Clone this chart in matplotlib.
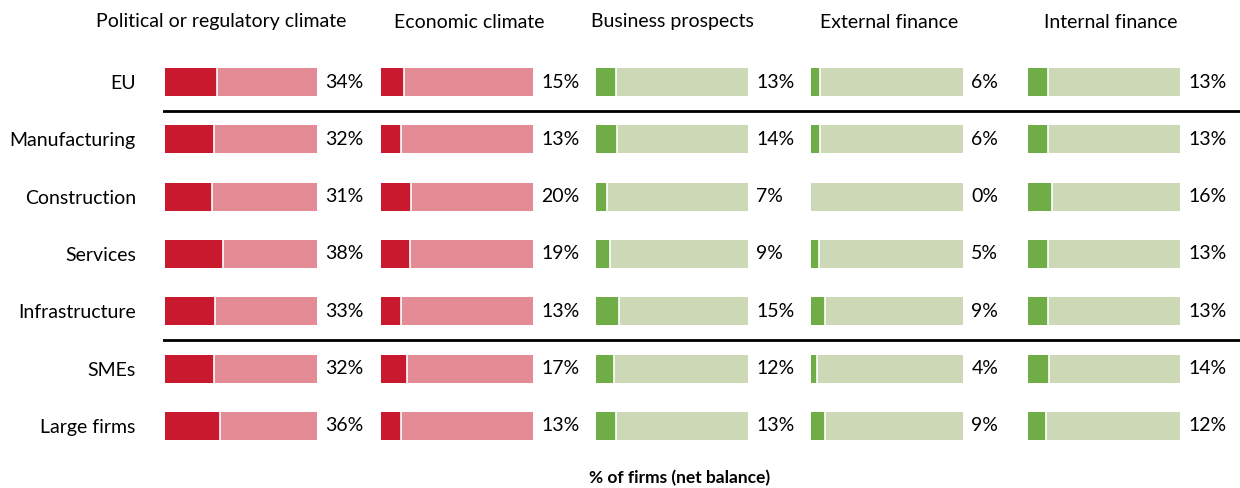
import matplotlib.pyplot as plt
import numpy as np
from matplotlib.transforms import offset_copy

plt.rcParams['font.family'] = ['Lato', 'DejaVu Sans']

categories = ["EU", "Manufacturing", "Construction", "Services", "Infrastructure", "SMEs", "Large firms"]
panels = ["Political or regulatory climate", "Economic climate", "Business prospects",
          "External finance", "Internal finance"]
political = [34, 32, 31, 38, 33, 32, 36]
economic = [15, 13, 20, 19, 13, 17, 13]
business = [13, 14, 7, 9, 15, 12, 13]
external = [6, 6, 0, 5, 9, 4, 9]
internal = [13, 13, 16, 13, 13, 14, 12]
values = [political, economic, business, external, internal]
xlabel = "% of firms (net balance)"

red_dark, red_light = '#C8192E', '#E38C95'
green_dark, green_light = '#70AD47', '#CDD8B6'
colors = [(red_dark, red_light), (red_dark, red_light), (green_dark, green_light),
          (green_dark, green_light), (green_dark, green_light)]

W, H = 1240, 488
fig = plt.figure(figsize=(W / 100, H / 100), dpi=100)

bar_left = [165, 381, 596, 811, 1028]
bar_w = 152
row_top, row_step = 82, 57.33
top_px = row_top - row_step / 2
bot_px = row_top + row_step * 6.5
ax_b = 1 - bot_px / H
ax_h = (bot_px - top_px) / H
y = np.arange(len(categories))
fs = 14

# background axes for the separator lines
bg = fig.add_axes([163 / W, ax_b, 1 - 163 / W, ax_h])
bg.set_ylim(6.5, -0.5)
bg.set_xlim(0, 1)
bg.axis('off')
for yy in [0.5, 4.5]:
    bg.axhline(yy, color='black', lw=2)

title_shift = [-20, 12, 0, 2, 7]
for i, (name, vals) in enumerate(zip(panels, values)):
    ax = fig.add_axes([bar_left[i] / W, ax_b, bar_w / W, ax_h])
    ax.patch.set_alpha(0)
    vals = np.array(vals)
    ax.barh(y, [100] * len(y), height=0.49, color=colors[i][1], edgecolor='none')
    ax.barh(y, vals, height=0.49, color=colors[i][0], edgecolor='none')
    # thin white split between the two segments
    for yy, v in zip(y, vals):
        if v > 0:
            ax.plot([v, v], [yy - 0.245, yy + 0.245], color='white', lw=1.2, solid_capstyle='butt')
    ax.set_xlim(0, 100)
    ax.set_ylim(6.5, -0.5)
    for s in ax.spines.values():
        s.set_visible(False)
    ax.set_xticks([])
    if i == 0:
        ax.set_yticks(y)
        ax.set_yticklabels(categories, fontsize=fs)
        ax.tick_params(axis='y', length=0, pad=21)
    else:
        ax.set_yticks([])
    trans = offset_copy(ax.transData, fig=fig, x=6, y=0, units='points')
    for yy, v in zip(y, vals):
        ax.text(100, yy, f"{v}%", transform=trans, ha='left', va='center', fontsize=fs)
    fig.text((bar_left[i] + bar_w / 2 + title_shift[i]) / W, 1 - 22 / H, name,
             ha='center', va='center', fontsize=fs)

fig.text(680 / W, 1 - 478 / H, xlabel, ha='center', va='center', fontsize=12.5, fontweight='bold')

fig.savefig('out.png', dpi=100)
